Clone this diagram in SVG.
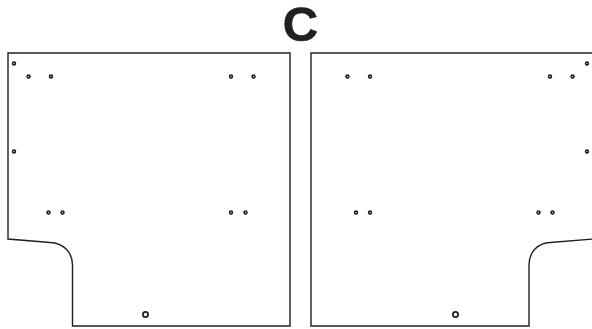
<svg xmlns="http://www.w3.org/2000/svg" width="592" height="329" viewBox="0 0 592 329">
<style>
.o{fill:none;stroke:#231f20;stroke-width:1.4}
.h{fill:#fff;stroke:#231f20;stroke-width:1.7}
.b{fill:#fff;stroke:#231f20;stroke-width:1.8}
text{font-family:"Liberation Sans",Arial,sans-serif;font-weight:bold;font-size:49px;fill:#231f20;stroke:#231f20;stroke-width:.7}
</style>
<defs>
<circle id="s" class="h" r="1.4"/>
</defs>
<rect width="592" height="329" fill="#fff"/>
<text id="label" x="300.5" y="40.5" text-anchor="middle">C</text>
<g id="left-panel">
<path class="o" d="M8 53H290V326H72.5V265C72.5 252 63 243 50 242.5L8 239Z"/>
<use href="#s" x="14" y="63.5"/><use href="#s" x="28.5" y="76.5"/><use href="#s" x="51" y="76.5"/><use href="#s" x="231" y="76.5"/><use href="#s" x="253.5" y="76.5"/><use href="#s" x="14" y="151.5"/>
<use href="#s" x="48.5" y="212.5"/><use href="#s" x="62.5" y="212.5"/><use href="#s" x="231" y="212.5"/><use href="#s" x="245.5" y="212.5"/>
<circle class="b" cx="145.5" cy="314.5" r="2.6"/>
</g>
<g id="right-panel">
<path class="o" d="M593 53H311V326H529V265C529 252 538 243 550 242.5L593 239"/>
<use href="#s" x="347.5" y="76.5"/><use href="#s" x="370" y="76.5"/><use href="#s" x="550" y="76.5"/><use href="#s" x="572.5" y="76.5"/><use href="#s" x="587" y="63.5"/><use href="#s" x="587" y="151.5"/>
<use href="#s" x="356" y="212.5"/><use href="#s" x="370" y="212.5"/><use href="#s" x="538.5" y="212.5"/><use href="#s" x="552.5" y="212.5"/>
<circle class="b" cx="455.5" cy="314.5" r="2.6"/>
</g>
</svg>
